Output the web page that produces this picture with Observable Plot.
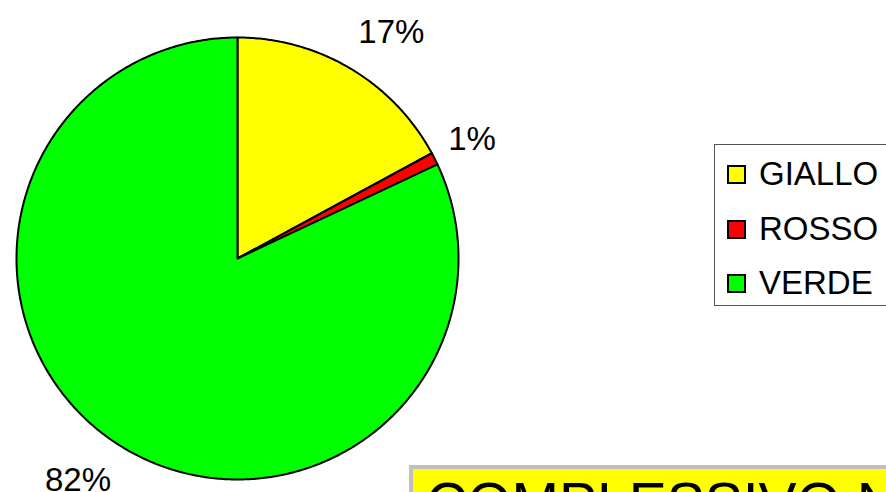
<!DOCTYPE html>
<html><head><meta charset="utf-8">
<script src="https://cdn.jsdelivr.net/npm/d3@7"></script>
<script src="https://cdn.jsdelivr.net/npm/@observablehq/plot@0.6"></script>
<style>
body{margin:0;background:#fff;font-family:Arial,"Liberation Sans",sans-serif;}
#wrap{position:relative;width:886px;height:492px;overflow:hidden;}
#wrap svg{position:absolute;left:0;top:0;}
#legend{position:absolute;left:714px;top:144px;width:220px;height:162px;border:1px solid #555;box-sizing:border-box;background:#fff;}
.item{position:absolute;left:12px;height:34px;display:flex;align-items:center;font-size:33px;color:#000;}
.sw{width:15px;height:15px;border:2px solid #000;margin-right:13px;}
#titlebox{position:absolute;left:409px;top:465px;width:600px;height:80px;background:#c0c0c0;}
#titlebox div{position:absolute;left:4px;top:4px;right:0;bottom:0;background:#ffff00;font-size:57px;line-height:1;padding-left:13px;padding-top:6px;white-space:nowrap;color:#000;}
</style></head><body><div id="wrap"></div>
<script>
const categories = ["GIALLO", "ROSSO", "VERDE"];
const values = [17.1, 0.9, 82.0];
const labels = ["17%", "1%", "82%"];
const colors = ["#FFFF00", "#FF0000", "#00FF00"];
const title = "COMPLESSIVO NORD";

const arcs = d3.pie().sort(null)(values).map((a, i) => ({...a, cat: categories[i], label: labels[i]}));
const mid = d => (d.startAngle + d.endAngle) / 2;

// outline of each slice (centre -> arc -> centre), built from the pie angles
const slicePts = arcs.flatMap(a => {
  const n = Math.max(2, Math.ceil((a.endAngle - a.startAngle) / 0.01));
  const pts = [{cat: a.cat, x: 0, y: 0}];
  for (let j = 0; j <= n; j++) {
    const t = a.startAngle + (a.endAngle - a.startAngle) * j / n;
    pts.push({cat: a.cat, x: Math.sin(t), y: Math.cos(t)});
  }
  pts.push({cat: a.cat, x: 0, y: 0});
  return pts;
});

const labelMarks = arcs.map(a => Plot.text([a], {
  x: d => Math.sin(mid(d)) * 1.068,
  y: d => Math.cos(mid(d)) * 1.19,
  text: "label",
  fontSize: 33,
  fill: "#000",
  fontFamily: "Arial, 'Liberation Sans', sans-serif",
  textAnchor: Math.sin(mid(a)) > 0 ? "start" : "end",
  lineAnchor: "middle"
}));

const chart = Plot.plot({
  width: 886,
  height: 492,
  x: {domain: [-1, 1], range: [16, 458], axis: null},
  y: {domain: [-1, 1], range: [479, 37], axis: null},
  color: {domain: categories, range: colors},
  style: {background: "transparent", overflow: "visible"},
  marks: [
    Plot.line(slicePts, {x: "x", y: "y", z: "cat", fill: "cat", stroke: "#000", strokeWidth: 2, strokeLinejoin: "round"}),
    ...labelMarks
  ]
});

const wrap = document.getElementById("wrap");
wrap.appendChild(chart);

const legend = document.createElement("div");
legend.id = "legend";
const rowTops = [12, 67, 121];
categories.forEach((c, i) => {
  const it = document.createElement("div");
  it.className = "item";
  it.style.top = rowTops[i] + "px";
  const sw = document.createElement("span");
  sw.className = "sw";
  sw.style.background = colors[i];
  it.appendChild(sw);
  it.appendChild(document.createTextNode(c));
  legend.appendChild(it);
});
wrap.appendChild(legend);

const tb = document.createElement("div");
tb.id = "titlebox";
const tt = document.createElement("div");
tt.textContent = title;
tb.appendChild(tt);
wrap.appendChild(tb);
</script></body></html>
